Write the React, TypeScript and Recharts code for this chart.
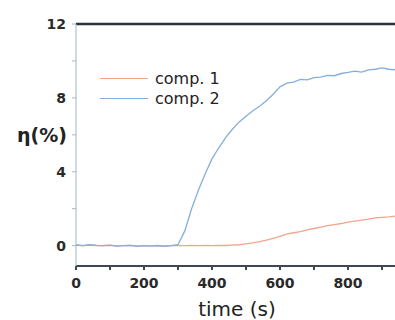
import React from 'react';
import { LineChart, Line, XAxis, YAxis, ReferenceLine, Legend } from 'recharts';

// sample times (s)
const times = [
  0, 20, 40, 60, 80, 100, 120, 140, 160, 180, 200, 220, 240, 260, 280, 300,
  320, 340, 360, 380, 400, 420, 440, 460, 480, 500, 520, 540, 560, 580, 600,
  620, 640, 660, 680, 700, 720, 740, 760, 780, 800, 820, 840, 860, 880, 900, 920, 940,
];

// efficiency η (%) for each compound
const comp1 = [
  0.02, 0.0, 0.03, 0.01, 0.0, 0.02, -0.01, 0.0, 0.02, -0.02, 0.0, -0.01, 0.01, -0.02, 0.0, 0.01,
  0.0, 0.02, 0.0, 0.01, 0.0, 0.02, 0.01, 0.03, 0.05, 0.1, 0.15, 0.22, 0.3, 0.4, 0.5,
  0.62, 0.7, 0.76, 0.85, 0.93, 1.0, 1.08, 1.14, 1.2, 1.28, 1.33, 1.38, 1.44, 1.5, 1.53, 1.56, 1.6,
];
const comp2 = [
  0.05, 0.0, 0.05, 0.02, 0.0, 0.03, -0.02, 0.0, 0.02, -0.03, 0.0, -0.02, 0.0, -0.03, 0.0, 0.05,
  0.8, 2.0, 3.0, 3.9, 4.7, 5.3, 5.85, 6.3, 6.7, 7.0, 7.3, 7.55, 7.85, 8.2, 8.6,
  8.8, 8.85, 9.0, 8.98, 9.1, 9.12, 9.22, 9.2, 9.32, 9.38, 9.45, 9.4, 9.52, 9.55, 9.62, 9.55, 9.52,
];

const xTicks = [0, 100, 200, 300, 400, 500, 600, 700, 800, 900];
const yTicks = [0, 2, 4, 6, 8, 10, 12];
const xLabelled = [0, 200, 400, 600, 800];
const yLabelled = [0, 4, 8, 12];

const data = times.map((t, i) => ({ t, comp1: comp1[i], comp2: comp2[i] }));

const FONT = '"DejaVu Sans", sans-serif';

const LegendBox = (props: any) => (
  <div style={{ fontFamily: FONT, fontSize: 16, color: '#222' }}>
    {(props.payload || []).map((entry: any) => (
      <div key={entry.value} style={{ display: 'flex', alignItems: 'center', height: 20 }}>
        <div style={{ width: 48, borderTop: `1.5px solid ${entry.color}`, marginRight: 7 }} />
        <span>{entry.value}</span>
      </div>
    ))}
  </div>
);

export default function App() {
  return (
    <div
      style={{
        position: 'absolute',
        left: 0,
        top: 0,
        width: 395,
        height: 320,
        overflow: 'hidden',
        background: '#fff',
      }}
    >
      <LineChart width={430} height={320} data={data} margin={{ top: 24, right: 14, bottom: 0, left: 0 }}>
        <XAxis
          dataKey="t"
          type="number"
          domain={[0, 1000]}
          ticks={xTicks}
          interval={0}
          tickFormatter={(v: number) => (xLabelled.includes(v) ? String(v) : '')}
          height={54}
          stroke="#3e4852"
          strokeWidth={2}
          tickSize={4}
          tickMargin={8}
          tick={{ fill: '#2a2a2a', fontSize: 14, fontWeight: 'bold', fontFamily: FONT }}
          label={{
            value: 'time (s)',
            position: 'insideBottom',
            offset: 4,
            dx: -9,
            fill: '#222',
            fontSize: 20,
            fontFamily: FONT,
          }}
        />
        <YAxis
          type="number"
          domain={[-1.1, 12]}
          ticks={yTicks}
          interval={0}
          tickFormatter={(v: number) => (yLabelled.includes(v) ? String(v) : '')}
          width={76}
          stroke="#a3b6c8"
          tickSize={4}
          tickMargin={6}
          tick={{ fill: '#2a2a2a', fontSize: 14, fontWeight: 'bold', fontFamily: FONT }}
          label={{
            value: 'η(%)',
            position: 'insideLeft',
            offset: 17,
            dy: -10,
            fill: '#222',
            fontSize: 19,
            fontWeight: 'bold',
            fontFamily: FONT,
          }}
        />
        <ReferenceLine y={12} stroke="#27323c" strokeWidth={2.5} />
        <Legend
          layout="vertical"
          align="center"
          verticalAlign="middle"
          content={LegendBox}
          wrapperStyle={{ left: 100, top: 68, width: 'auto' }}
        />
        <Line
          dataKey="comp1"
          name="comp. 1"
          stroke="#f2a48f"
          strokeWidth={1.3}
          dot={false}
          isAnimationActive={false}
        />
        <Line
          dataKey="comp2"
          name="comp. 2"
          stroke="#86aedc"
          strokeWidth={1.3}
          dot={false}
          isAnimationActive={false}
        />
      </LineChart>
    </div>
  );
}
